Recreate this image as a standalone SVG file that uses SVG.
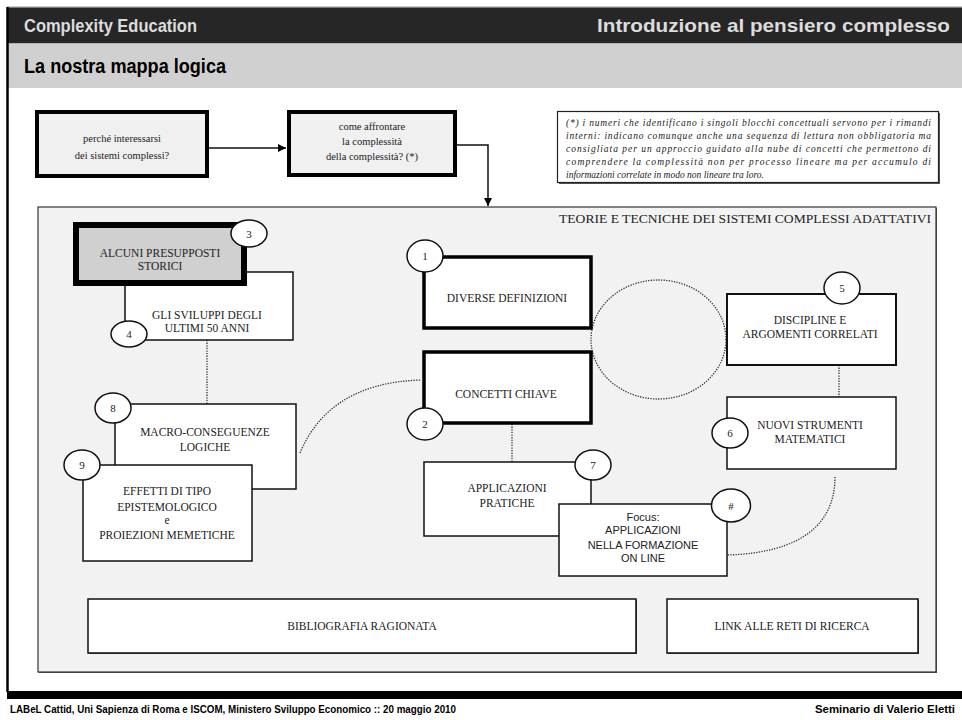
<svg xmlns="http://www.w3.org/2000/svg" width="962" height="720" viewBox="0 0 962 720">
<defs>
<marker id="arr" viewBox="0 0 10 10" refX="10" refY="5" markerWidth="8" markerHeight="8" markerUnits="userSpaceOnUse" orient="auto">
<path d="M0,0 L10,5 L0,10 z" fill="#000"/>
</marker>
</defs>
<style>
.hd{font-family:"Liberation Sans",Arial,sans-serif;font-weight:bold;font-size:19px;fill:#dcdcdc}
.ti{font-family:"Liberation Sans",Arial,sans-serif;font-weight:bold;font-size:20px;fill:#000}
.ft{font-family:"Liberation Sans",Arial,sans-serif;font-weight:bold;font-size:10px;fill:#000}
.t{font-family:"Liberation Serif","Times New Roman",serif;font-size:11.5px;fill:#222;text-anchor:middle}
.ts{font-family:"Liberation Serif","Times New Roman",serif;font-size:10.5px;fill:#222;text-anchor:middle}
.tn{font-family:"Liberation Serif","Times New Roman",serif;font-size:11px;fill:#222;text-anchor:middle}
.tf{font-family:"Liberation Sans",Arial,sans-serif;font-size:11px;fill:#222;text-anchor:middle}
.note{font-family:"Liberation Serif","Times New Roman",serif;font-style:italic;font-size:9.5px;fill:#222}
.box{fill:#fff;stroke:#111;stroke-width:1.5}
.circ{fill:#fff;stroke:#111;stroke-width:1.5}
.dot{fill:none;stroke:#333;stroke-width:1.3;stroke-dasharray:1.3 1.3}
.con{fill:none;stroke:#111;stroke-width:1.5}
</style>
<rect x="0" y="0" width="962" height="720" fill="#fff"/>
<!-- header -->
<line x1="7" y1="7" x2="962" y2="7" stroke="#999" stroke-width="1"/>
<rect x="7" y="7.5" width="955" height="36" fill="#262626"/>
<rect x="7" y="43.5" width="955" height="44.5" fill="#d0d0d0"/>
<line x1="7.5" y1="7" x2="7.5" y2="692" stroke="#000" stroke-width="2.5"/>
<text class="hd" x="24" y="32" textLength="173" lengthAdjust="spacingAndGlyphs">Complexity Education</text>
<text class="hd" x="950" y="32" text-anchor="end" textLength="353" lengthAdjust="spacingAndGlyphs">Introduzione al pensiero complesso</text>
<text class="ti" x="24" y="73" textLength="202" lengthAdjust="spacingAndGlyphs">La nostra mappa logica</text>
<!-- footer -->
<rect x="7" y="691" width="955" height="8" fill="#000"/>
<text class="ft" x="10" y="713" textLength="446" lengthAdjust="spacingAndGlyphs">LABeL Cattid,  Uni Sapienza di Roma e ISCOM, Ministero Sviluppo Economico :: 20 maggio 2010</text>
<text class="ft" x="955" y="713" text-anchor="end" textLength="140" lengthAdjust="spacingAndGlyphs">Seminario di Valerio Eletti</text>

<!-- container -->
<g id="container">
<rect x="39" y="208" width="898" height="465" fill="#555"/>
<rect x="38" y="207" width="898" height="465" fill="#f2f2f2" stroke="#333" stroke-width="1.2"/>
<text x="931" y="223" font-family="Liberation Serif, serif" font-size="13" fill="#222" text-anchor="end" textLength="372" lengthAdjust="spacingAndGlyphs">TEORIE E TECNICHE DEI SISTEMI COMPLESSI ADATTATIVI</text>
</g>

<!-- connectors -->
<g id="connectors">
<line class="con" x1="209" y1="148" x2="286" y2="148" marker-end="url(#arr)"/>
<polyline class="con" points="457,145 488,145 488,206" marker-end="url(#arr)"/>
<line class="dot" x1="207" y1="340" x2="207" y2="404"/>
<line class="dot" x1="512" y1="424" x2="512" y2="462"/>
<line class="dot" x1="839" y1="365" x2="839" y2="397"/>
<path class="dot" d="M300,453 C318,410 355,382 421,380"/>
<path class="dot" d="M835,477 C835,525 800,553 727,555"/>
<ellipse class="dot" cx="658.5" cy="339.5" rx="67.5" ry="59.5"/>
</g>

<g id="nodeA">
<rect x="37" y="112" width="170" height="64" fill="#f0f0f0" stroke="#000" stroke-width="4"/>
<text class="ts" x="122" y="142">perché interessarsi</text>
<text class="ts" x="122" y="159">dei sistemi complessi?</text>
</g>
<g id="nodeB">
<rect x="289" y="112" width="166" height="63" fill="#f0f0f0" stroke="#000" stroke-width="4"/>
<text class="ts" x="372" y="130">come affrontare</text>
<text class="ts" x="372" y="145">la complessità</text>
<text class="ts" x="372" y="160">della complessità? (*)</text>
</g>
<g id="note">
<rect x="559" y="113" width="381" height="71" fill="#555"/>
<rect x="557.5" y="111.5" width="381" height="71" fill="#fff" stroke="#222" stroke-width="1.2"/>
<text class="note" x="566" y="126" textLength="365" lengthAdjust="spacing">(*) i numeri che identificano i singoli blocchi concettuali servono per i rimandi</text>
<text class="note" x="566" y="139" textLength="365" lengthAdjust="spacing">interni: indicano comunque anche una sequenza di lettura non obbligatoria ma</text>
<text class="note" x="566" y="152" textLength="365" lengthAdjust="spacing">consigliata per un approccio guidato alla nube di concetti che permettono di</text>
<text class="note" x="566" y="165" textLength="365" lengthAdjust="spacing">comprendere la complessità non per processo lineare ma per accumulo di</text>
<text class="note" x="566" y="178">informazioni correlate in modo non lineare tra loro.</text>
</g>

<g id="node4">
<rect class="box" x="125" y="272" width="168" height="68"/>
<text class="t" x="207" y="319">GLI SVILUPPI DEGLI</text>
<text class="t" x="207" y="332">ULTIMI 50 ANNI</text>
<ellipse class="circ" cx="129" cy="334" rx="18" ry="13"/>
<text class="tn" x="129" y="338">4</text>
</g>
<g id="node3">
<rect x="76" y="225" width="168" height="58" fill="#d0d0d0" stroke="#000" stroke-width="6"/>
<text class="t" x="160" y="257">ALCUNI PRESUPPOSTI</text>
<text class="t" x="160" y="270">STORICI</text>
<ellipse class="circ" cx="249" cy="233.5" rx="18" ry="13.5"/>
<text class="tn" x="249" y="237.5">3</text>
</g>

<g id="node8">
<rect class="box" x="115" y="404" width="181" height="85"/>
<text class="t" x="205" y="436">MACRO-CONSEGUENZE</text>
<text class="t" x="205" y="451">LOGICHE</text>
<ellipse class="circ" cx="113" cy="408" rx="18" ry="15"/>
<text class="tn" x="113" y="412">8</text>
</g>
<g id="node9">
<rect class="box" x="83" y="465" width="169" height="96"/>
<text class="t" x="167" y="495">EFFETTI DI TIPO</text>
<text class="t" x="167" y="511">EPISTEMOLOGICO</text>
<text class="t" x="167" y="524">e</text>
<text class="t" x="167" y="539">PROIEZIONI MEMETICHE</text>
<ellipse class="circ" cx="82" cy="465" rx="18" ry="15"/>
<text class="tn" x="82" y="469">9</text>
</g>

<g id="node1">
<rect x="424" y="257" width="167" height="71" fill="#fff" stroke="#000" stroke-width="3.5"/>
<text class="t" x="507" y="302">DIVERSE DEFINIZIONI</text>
<ellipse class="circ" cx="425" cy="256" rx="18" ry="16"/>
<text class="tn" x="425" y="260">1</text>
</g>
<g id="node2">
<rect x="424" y="352" width="167" height="71" fill="#fff" stroke="#000" stroke-width="3.5"/>
<text class="t" x="506" y="398">CONCETTI CHIAVE</text>
<ellipse class="circ" cx="425" cy="424" rx="18" ry="16"/>
<text class="tn" x="425" y="428">2</text>
</g>

<g id="node5">
<rect x="727" y="294" width="169" height="71" fill="#fff" stroke="#111" stroke-width="2"/>
<text class="t" x="810" y="324">DISCIPLINE E</text>
<text class="t" x="810" y="338">ARGOMENTI CORRELATI</text>
<ellipse class="circ" cx="842" cy="288" rx="18" ry="16"/>
<text class="tn" x="842" y="292">5</text>
</g>
<g id="node6">
<rect class="box" x="727" y="397" width="169" height="72"/>
<text class="t" x="810" y="429">NUOVI STRUMENTI</text>
<text class="t" x="810" y="443">MATEMATICI</text>
<ellipse class="circ" cx="730" cy="433" rx="18" ry="15"/>
<text class="tn" x="730" y="437">6</text>
</g>

<g id="node7">
<rect class="box" x="424" y="462" width="167" height="74"/>
<text class="t" x="507" y="492">APPLICAZIONI</text>
<text class="t" x="507" y="507">PRATICHE</text>
<ellipse class="circ" cx="593" cy="465" rx="18" ry="15"/>
<text class="tn" x="593" y="469">7</text>
</g>
<g id="nodeFocus">
<rect class="box" x="559" y="504" width="168" height="72"/>
<text class="tf" x="643" y="521">Focus:</text>
<text class="tf" x="643" y="534">APPLICAZIONI</text>
<text class="tf" x="643" y="549">NELLA FORMAZIONE</text>
<text class="tf" x="643" y="562">ON LINE</text>
<ellipse class="circ" cx="731" cy="505.5" rx="19.5" ry="16.5"/>
<text class="tn" x="731" y="509.5">#</text>
</g>

<g id="nodeBiblio">
<rect x="89" y="600" width="548" height="54" fill="#555"/>
<rect class="box" x="88" y="599" width="548" height="54" stroke-width="1.2"/>
<text class="t" x="362" y="630">BIBLIOGRAFIA RAGIONATA</text>
</g>
<g id="nodeLink">
<rect x="668" y="600" width="251" height="54" fill="#555"/>
<rect class="box" x="667" y="599" width="251" height="54" stroke-width="1.2"/>
<text class="t" x="792" y="630">LINK ALLE RETI DI RICERCA</text>
</g>
</svg>
